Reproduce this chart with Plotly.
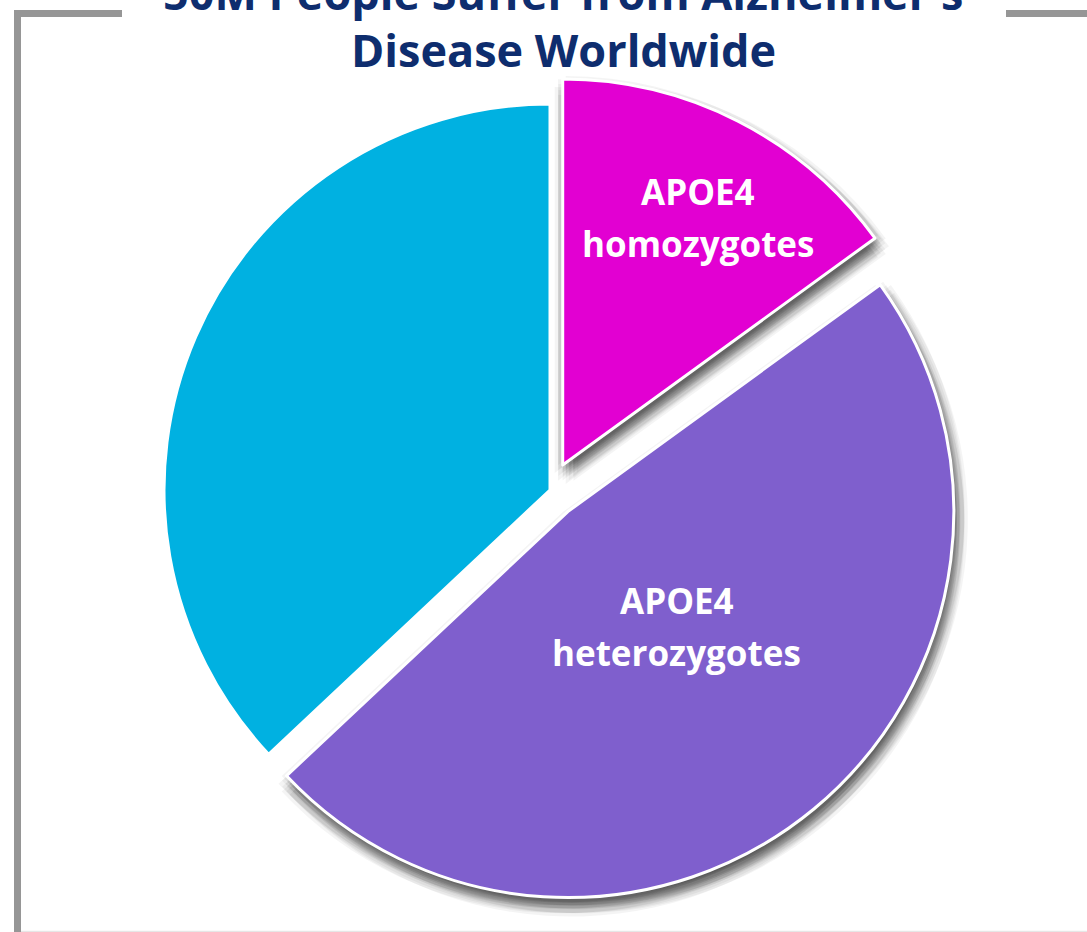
import math
import plotly.graph_objects as go

# Share of people with Alzheimer's disease by APOE4 genotype (%)
labels = ["APOE4 homozygotes", "APOE4 heterozygotes", "Non-carriers"]
values = [15, 48, 37]
slice_text = [["APOE4", "homozygotes"], ["APOE4", "heterozygotes"], []]
colors = ["#E200D2", "#7F5FCD", "#00B1E1"]
pulled = [True, True, False]
# label placement: distance out (fraction of radius) and turn from mid-angle (deg)
label_radius = [0.73, 0.41, 0.5]
label_turn = [1.7, -4.0, 0.0]

title_lines = ["50M People Suffer from Alzheimer's", "Disease Worldwide"]

W, H = 1087, 932
CX, CY = 550, 490          # pie centre, px from top-left
R = 386                    # pie radius, px
PULL_PX = 28               # radial offset of pulled slices, px


def domain_for(cx, cy, r, pull_px):
    """Domain (paper units) so that a pie with the given pull gets radius r."""
    half = r + pull_px
    return dict(x=[(cx - half) / W, (cx + half) / W],
                y=[(H - cy - half) / H, (H - cy + half) / H])


pull_frac = [PULL_PX / R if p else 0 for p in pulled]

fig = go.Figure()

# soft drop shadow behind the pulled slices: many faint, slightly shifted copies
shadow_offsets = [(3, 8)]
for s in (4, 8, 11):
    for k in range(8):
        a = 2 * math.pi * k / 8 + (0.4 if s == 8 else 0)
        shadow_offsets.append((3 + s * math.cos(a), 8 + s * math.sin(a)))
for ox, oy in shadow_offsets:
    fig.add_trace(go.Pie(
        labels=labels, values=values, sort=False, direction="clockwise",
        rotation=0, pull=pull_frac,
        marker=dict(colors=["rgba(0,0,0,0.042)" if p else "rgba(0,0,0,0)"
                            for p in pulled],
                    line=dict(width=0)),
        textinfo="none", hoverinfo="skip", showlegend=False,
        domain=domain_for(CX + ox, CY + oy, R, PULL_PX),
    ))

# main pie
fig.add_trace(go.Pie(
    labels=labels, values=values, sort=False, direction="clockwise",
    rotation=0, pull=pull_frac,
    marker=dict(colors=colors, line=dict(color="white", width=3)),
    textinfo="none",
    hoverinfo="label+percent", showlegend=False,
    domain=domain_for(CX, CY, R, PULL_PX),
))

# slice labels, placed along each slice's mid-angle
total = sum(values)
start = 0.0
for val, lines, frac, rf, turn in zip(values, slice_text, pull_frac,
                                      label_radius, label_turn):
    mid_deg = (start + val / 2) / total * 360
    start += val
    if not lines:
        continue
    mid = math.radians(mid_deg)
    ang = math.radians(mid_deg + turn)
    # centre of the (possibly pulled) slice, then out along the label angle
    sx = CX + frac * R * math.sin(mid)
    sy = CY - frac * R * math.cos(mid)
    px = sx + rf * R * math.sin(ang)
    py = sy - rf * R * math.cos(ang)
    n = len(lines)
    for j, line in enumerate(lines):
        ly = py + (j - (n - 1) / 2) * 52
        fig.add_annotation(
            text=line, xref="paper", yref="paper",
            x=px / W, y=1 - ly / H, xanchor="center", yanchor="middle",
            showarrow=False,
            font=dict(family="Open Sans", size=35, color="white",
                      weight="bold"),
        )

# two-line title, the first line running off the top edge
title_cx = 563 / W
for i, line in enumerate(title_lines):
    y_px = 50 - 58 * (len(title_lines) - 1 - i)
    fig.add_annotation(
        text=line, xref="paper", yref="paper",
        x=title_cx, y=1 - y_px / H, xanchor="center", yanchor="middle",
        showarrow=False,
        font=dict(family="Open Sans", size=45, color="#0E2D6E",
                  weight="bold"),
    )

# grey frame around the chart, broken where the title sits
frame = dict(color="#969696", width=7)
fig.add_shape(type="line", xref="paper", yref="paper",
              x0=17.5 / W, x1=17.5 / W, y0=0, y1=1 - 10 / H, line=frame)
fig.add_shape(type="line", xref="paper", yref="paper",
              x0=14 / W, x1=122 / W, y0=1 - 13.5 / H, y1=1 - 13.5 / H,
              line=frame)
fig.add_shape(type="line", xref="paper", yref="paper",
              x0=1006 / W, x1=1, y0=1 - 13.5 / H, y1=1 - 13.5 / H,
              line=frame)
fig.add_shape(type="line", xref="paper", yref="paper",
              x0=21 / W, x1=1, y0=0.5 / H, y1=0.5 / H,
              line=dict(color="#E6E6E6", width=1.5))

fig.update_layout(
    width=W, height=H,
    margin=dict(l=0, r=0, t=0, b=0),
    paper_bgcolor="white", plot_bgcolor="white",
)

fig.write_html("out.html")
